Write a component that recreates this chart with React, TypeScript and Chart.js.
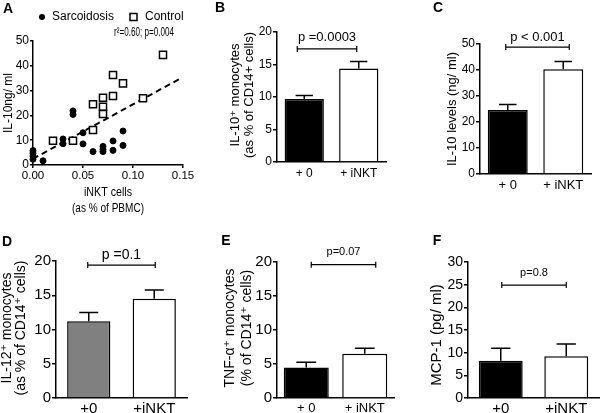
import React, { useEffect, useRef } from 'react';
import { Chart, registerables } from 'chart.js';

Chart.register(...registerables);

const W = 600;
const H = 413;
const FONT = '"Liberation Sans", Arial, Helvetica, "DejaVu Sans", sans-serif';

// ---------- Panel A data ----------
const sarcX = [0, 0, 0, 0, 0.01, 0.03, 0.03, 0.04, 0.04, 0.05, 0.05, 0.06, 0.07, 0.07, 0.07, 0.08, 0.08, 0.09, 0.09];
const sarcY = [5.8, 4.7, 3.6, 2.3, 1.7, 10.5, 8.6, 21.8, 20.4, 13.0, 8.5, 5.4, 7.5, 6.3, 5.4, 9.7, 5.9, 13.7, 7.9];
const ctrlX = [0.02, 0.04, 0.06, 0.06, 0.07, 0.07, 0.07, 0.08, 0.08, 0.09, 0.11, 0.13];
const ctrlY = [9.8, 9.8, 24.5, 14.1, 27.1, 23.5, 20.6, 36.3, 27.8, 32.9, 26.9, 44.4];
const fitX = [0, 0.148];
const fitY = [2.5, 35];
const xTicksA = [0, 0.05, 0.1, 0.15];
const yTicksA = [0, 10, 20, 30, 40, 50];
const legendA = ['Sarcoidosis', 'Control'];
const statA = 'r²=0.60; p=0.004';

// ---------- Bar panels data ----------
const groupsSpaced = ['+ 0', '+ iNKT'];
const groupsTight = ['+0', '+iNKT'];
const meanB = [9.7, 14.4];
const semB = [0.55, 1.05];
const meanC = [24.6, 40.3];
const semC = [2.1, 3.0];
const meanD = [11.2, 14.5];
const semD = [1.3, 1.25];
const meanE = [4.5, 6.5];
const semE = [0.75, 0.8];
const meanF = [8.2, 9.2];
const semF = [2.8, 2.7];

type Area = { l: number; t: number; r: number; b: number };

function drawText(
  ctx: CanvasRenderingContext2D,
  s: string,
  x: number,
  y: number,
  o: { size: number; bold?: boolean; align?: CanvasTextAlign; baseline?: CanvasTextBaseline; rot?: number; maxW?: number }
) {
  ctx.save();
  ctx.translate(x, y);
  if (o.rot) ctx.rotate(o.rot);
  ctx.font = `${o.bold ? 'bold ' : ''}${o.size}px ${FONT}`;
  ctx.fillStyle = '#000';
  ctx.textAlign = o.align || 'center';
  ctx.textBaseline = o.baseline || 'middle';
  if (o.maxW) ctx.fillText(s, 0, 0, o.maxW);
  else ctx.fillText(s, 0, 0);
  ctx.restore();
}

// ---------- Panel A ----------
function makeA(): any {
  const area: Area = { l: 33, t: 41, r: 183, b: 165 };
  const plugin = {
    id: 'panelA',
    afterDraw(chart: any) {
      const ctx: CanvasRenderingContext2D = chart.ctx;
      drawText(ctx, 'A', 8, 9, { size: 14, bold: true });
      // legend
      ctx.save();
      ctx.fillStyle = '#000';
      ctx.beginPath();
      ctx.arc(42, 17, 3, 0, Math.PI * 2);
      ctx.fill();
      ctx.lineWidth = 1.5;
      ctx.strokeStyle = '#000';
      ctx.fillStyle = '#fff';
      ctx.fillRect(130, 13.5, 7, 7);
      ctx.strokeRect(130, 13.5, 7, 7);
      ctx.restore();
      drawText(ctx, legendA[0], 52, 17, { size: 12, align: 'left' });
      drawText(ctx, legendA[1], 145, 17, { size: 12, align: 'left' });
      drawText(ctx, statA, 144, 33, { size: 12, maxW: 60 });
      // axis titles
      drawText(ctx, 'IL-10ng/ ml', 8, 103, { size: 13, rot: -Math.PI / 2, maxW: 60 });
      drawText(ctx, 'iNKT cells', 108, 193, { size: 12, maxW: 48 });
      drawText(ctx, '(as % of PBMC)', 108, 209, { size: 12, maxW: 72 });
    },
  };
  return {
    type: 'scatter',
    data: {
      datasets: [
        {
          label: legendA[0],
          data: sarcX.map((x, i) => ({ x, y: sarcY[i] })),
          pointStyle: 'circle',
          pointRadius: 3,
          backgroundColor: '#000',
          borderColor: '#000',
          borderWidth: 1,
          clip: false,
          order: 0,
        },
        {
          label: legendA[1],
          data: ctrlX.map((x, i) => ({ x, y: ctrlY[i] })),
          pointStyle: 'rect',
          pointRadius: 5,
          backgroundColor: '#fff',
          borderColor: '#000',
          borderWidth: 1.5,
          clip: false,
          order: 0,
        },
        {
          type: 'line',
          label: 'fit',
          data: fitX.map((x, i) => ({ x, y: fitY[i] })),
          showLine: true,
          borderColor: '#000',
          borderWidth: 2,
          borderDash: [6, 4],
          pointRadius: 0,
          fill: false,
          clip: false,
          order: 1,
        },
      ],
    },
    options: {
      responsive: false,
      animation: false,
      devicePixelRatio: 1,
      events: [],
      layout: { padding: { left: 0, top: area.t, right: W - area.r, bottom: 0 } },
      plugins: { legend: { display: false }, tooltip: { enabled: false } },
      scales: {
        x: {
          type: 'linear',
          min: 0,
          max: 0.15,
          afterBuildTicks: (s: any) => {
            s.ticks = xTicksA.map((v) => ({ value: v }));
          },
          grid: { display: true, drawOnChartArea: false, drawTicks: true, tickLength: 3, color: '#000', lineWidth: 1.5 },
          border: { display: true, color: '#000', width: 1.5 },
          ticks: { color: '#000', font: { family: FONT, size: 11.5 }, padding: 1, maxRotation: 0, callback: (v: number) => v.toFixed(2) },
          afterFit: (s: any) => {
            s.height = H - area.b;
          },
        },
        y: {
          min: 0,
          max: 50,
          afterBuildTicks: (s: any) => {
            s.ticks = yTicksA.map((v) => ({ value: v }));
          },
          grid: { display: true, drawOnChartArea: false, drawTicks: true, tickLength: 3, color: '#000', lineWidth: 1.5 },
          border: { display: true, color: '#000', width: 1.5 },
          ticks: { color: '#000', font: { family: FONT, size: 12 }, padding: 1 },
          afterFit: (s: any) => {
            s.width = area.l;
          },
        },
      },
    },
    plugins: [plugin],
  };
}

// ---------- Bar panels ----------
interface BarPanel {
  letter: string;
  letterPos: [number, number];
  area: Area;
  labels: string[];
  means: number[];
  sems: number[];
  colors: string[];
  yMax: number;
  yStep: number;
  tickFont: number;
  labelFont: number;
  labelPad: number;
  barPct: number;
  title: string[];
  titleX: number[];
  titleY: number;
  titleFont: number;
  bracketY: number;
  bracketDx: [number, number];
  pText: string;
  pFont: number;
  pDy: number;
}

function makeBar(p: BarPanel): any {
  const plugin = {
    id: 'panel' + p.letter,
    afterDraw(chart: any) {
      const ctx: CanvasRenderingContext2D = chart.ctx;
      const xs = chart.scales.x;
      const ys = chart.scales.y;
      const meta = chart.getDatasetMeta(0);
      // error bars (upper only)
      ctx.save();
      ctx.strokeStyle = '#000';
      ctx.lineWidth = 1.5;
      meta.data.forEach((bar: any, i: number) => {
        const x = bar.x;
        const yTop = bar.y;
        const yErr = ys.getPixelForValue(p.means[i] + p.sems[i]);
        const half = bar.width * 0.22;
        ctx.beginPath();
        ctx.moveTo(x, yTop);
        ctx.lineTo(x, yErr);
        ctx.moveTo(x - half, yErr);
        ctx.lineTo(x + half, yErr);
        ctx.stroke();
      });
      // bracket
      const by = ys.getPixelForValue(p.bracketY);
      const bx0 = xs.getPixelForValue(0) + p.bracketDx[0];
      const bx1 = xs.getPixelForValue(1) + p.bracketDx[1];
      ctx.lineWidth = 1.2;
      ctx.beginPath();
      ctx.moveTo(bx0, by);
      ctx.lineTo(bx1, by);
      ctx.moveTo(bx0, by - 3);
      ctx.lineTo(bx0, by + 3);
      ctx.moveTo(bx1, by - 3);
      ctx.lineTo(bx1, by + 3);
      ctx.stroke();
      ctx.restore();
      drawText(ctx, p.pText, (bx0 + bx1) / 2, by - p.pDy, { size: p.pFont });
      // letter
      drawText(ctx, p.letter, p.letterPos[0], p.letterPos[1], { size: 14, bold: true });
      // y title
      p.title.forEach((t, i) => {
        drawText(ctx, t, p.titleX[i], p.titleY, { size: p.titleFont, rot: -Math.PI / 2 });
      });
    },
  };
  return {
    type: 'bar',
    data: {
      labels: p.labels,
      datasets: [
        {
          data: p.means,
          backgroundColor: p.colors,
          borderColor: '#000',
          borderWidth: 1.5,
          barPercentage: p.barPct,
          categoryPercentage: 1,
        },
      ],
    },
    options: {
      responsive: false,
      animation: false,
      devicePixelRatio: 1,
      events: [],
      layout: { padding: { left: 0, top: p.area.t, right: W - p.area.r, bottom: 0 } },
      plugins: { legend: { display: false }, tooltip: { enabled: false } },
      scales: {
        x: {
          type: 'category',
          offset: true,
          grid: { display: false, drawTicks: false },
          border: { display: true, color: '#000', width: 1.5 },
          ticks: { color: '#000', font: { family: FONT, size: p.labelFont }, padding: p.labelPad, maxRotation: 0, autoSkip: false },
          afterFit: (s: any) => {
            s.height = H - p.area.b;
          },
        },
        y: {
          min: 0,
          max: p.yMax,
          grid: { display: true, drawOnChartArea: false, drawTicks: true, tickLength: 4, color: '#000', lineWidth: 1.5 },
          border: { display: true, color: '#000', width: 1.5 },
          ticks: { stepSize: p.yStep, color: '#000', font: { family: FONT, size: p.tickFont }, padding: 1 },
          afterFit: (s: any) => {
            s.width = p.area.l;
          },
        },
      },
    },
    plugins: [plugin],
  };
}

const panelB: BarPanel = {
  letter: 'B', letterPos: [220, 8], area: { l: 277, t: 32, r: 386, b: 162 },
  labels: groupsSpaced, means: meanB, sems: semB, colors: ['#000', '#fff'],
  yMax: 20, yStep: 5, tickFont: 12, labelFont: 12, labelPad: 4, barPct: 0.72,
  title: ['IL-10⁺ monocytes', '(as % of CD14+ cells)'], titleX: [235, 249], titleY: 95, titleFont: 13,
  bracketY: 17.4, bracketDx: [-7, -2], pText: 'p =0.0003', pFont: 13, pDy: 11,
};
const panelC: BarPanel = {
  letter: 'C', letterPos: [438, 8], area: { l: 480, t: 44, r: 591, b: 174 },
  labels: groupsSpaced, means: meanC, sems: semC, colors: ['#000', '#fff'],
  yMax: 50, yStep: 10, tickFont: 12, labelFont: 13, labelPad: 4, barPct: 0.72,
  title: ['IL-10 levels (ng/ ml)'], titleX: [452], titleY: 109, titleFont: 13,
  bracketY: 48.8, bracketDx: [-2, 6], pText: 'p < 0.001', pFont: 13, pDy: 10,
};
const panelD: BarPanel = {
  letter: 'D', letterPos: [7, 242], area: { l: 56, t: 261, r: 187, b: 398 },
  labels: groupsTight, means: meanD, sems: semD, colors: ['#808080', '#fff'],
  yMax: 20, yStep: 5, tickFont: 15, labelFont: 15, labelPad: 2, barPct: 0.66,
  title: ['IL-12⁺ monocytes', '(as % of CD14⁺ cells)'], titleX: [7, 21], titleY: 328, titleFont: 14,
  bracketY: 19.4, bracketDx: [-1, 1], pText: 'p =0.1', pFont: 14, pDy: 10,
};
const panelE: BarPanel = {
  letter: 'E', letterPos: [226, 241], area: { l: 277, t: 262, r: 394, b: 398 },
  labels: groupsSpaced, means: meanE, sems: semE, colors: ['#000', '#fff'],
  yMax: 20, yStep: 5, tickFont: 15, labelFont: 13, labelPad: 3, barPct: 0.77,
  title: ['TNF-α⁺ monocytes', '(% of CD14⁺ cells)'], titleX: [230, 247], titleY: 328, titleFont: 14,
  bracketY: 19.6, bracketDx: [5, 11], pText: 'p=0.07', pFont: 11, pDy: 13,
};
const panelF: BarPanel = {
  letter: 'F', letterPos: [437, 241], area: { l: 468, t: 262, r: 599, b: 398 },
  labels: groupsTight, means: meanF, sems: semF, colors: ['#000', '#fff'],
  yMax: 30, yStep: 5, tickFont: 14, labelFont: 15, labelPad: 2, barPct: 0.67,
  title: ['MCP-1 (pg/ ml)'], titleX: [437], titleY: 335, titleFont: 15,
  bracketY: 24.9, bracketDx: [1, 0], pText: 'p=0.8', pFont: 11, pDy: 12,
};

function ChartCanvas({ make }: { make: () => any }) {
  const ref = useRef<HTMLCanvasElement>(null);
  useEffect(() => {
    const chart = new Chart(ref.current as HTMLCanvasElement, make());
    return () => chart.destroy();
  }, []);
  return (
    <canvas
      ref={ref}
      width={W}
      height={H}
      style={{ position: 'absolute', left: 0, top: 0, width: W, height: H }}
    />
  );
}

export default function App() {
  return (
    <div style={{ position: 'absolute', left: 0, top: 0, width: W, height: H, background: '#fff', overflow: 'hidden' }}>
      <ChartCanvas make={makeA} />
      <ChartCanvas make={() => makeBar(panelB)} />
      <ChartCanvas make={() => makeBar(panelC)} />
      <ChartCanvas make={() => makeBar(panelD)} />
      <ChartCanvas make={() => makeBar(panelE)} />
      <ChartCanvas make={() => makeBar(panelF)} />
    </div>
  );
}
